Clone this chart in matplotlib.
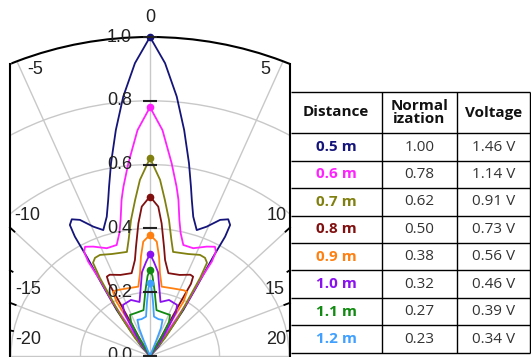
import numpy as np
import matplotlib.pyplot as plt
from matplotlib.lines import Line2D
from matplotlib.patches import Rectangle
from matplotlib.transforms import offset_copy

# table data
distances = ['0.5 m', '0.6 m', '0.7 m', '0.8 m', '0.9 m', '1.0 m', '1.1 m', '1.2 m']
norm_values = [1.00, 0.78, 0.62, 0.50, 0.38, 0.32, 0.27, 0.23]
voltages = [1.46, 1.14, 0.91, 0.73, 0.56, 0.46, 0.39, 0.34]
colors = ['#14147a', '#ff22ff', '#808010', '#801010', '#ff8010', '#8a10f0', '#108a10', '#40a0ff']

# beam patterns, right half (angle in deg, normalized r); mirrored for the left half
theta_05 = [0, 2.7, 5.4, 7.9, 10.5, 12.5, 13.8, 15.9, 18.8, 21.9, 25.3, 27.7, 29.3, 30.0, 30.3, 31.7, 33.6, 35.2, 39.3, 40]
r_05 = [1.00, .919, .817, .715, .615, .544, .504, .454, .417, .437, .472, .484, .471, .432, .361, .255, .173, .100, .038, 0]
theta_06 = [0, 2.9, 5.9, 8.2, 9.5, 11.2, 12.9, 15.4, 20.2, 25.5, 28.6, 30.1, 31.0, 31.1, 32.6, 33.2, 33.8, 35]
r_06 = [.78, .709, .607, .536, .496, .435, .395, .361, .360, .380, .390, .378, .345, .278, .196, .123, .060, 0]
theta_07 = [0, 3.0, 5.0, 7.3, 9.6, 11.5, 18.9, 24.4, 27.2, 29.3, 30.5, 31.7, 34.1, 37.4, 38]
r_07 = [.62, .553, .491, .430, .369, .333, .338, .348, .346, .335, .284, .214, .144, .071, 0]
theta_08 = [0, 2.9, 4.6, 6.7, 8.2, 11.5, 18.5, 24.5, 26.5, 27.5, 27.5, 28.0, 29.0, 30.0]
r_08 = [.50, .469, .417, .345, .304, .265, .268, .280, .278, .255, .173, .104, .058, 0]
theta_09 = [0, 3.1, 4.8, 6.3, 8.8, 17.5, 25.5, 27.9, 29.5, 29.5, 29.5, 30]
r_09 = [.38, .359, .312, .261, .220, .222, .228, .227, .196, .129, .069, 0]
theta_10 = [0, 2.2, 5.0, 7.5, 10.1, 17.3, 25.9, 28.5, 30.0, 33.3, 34]
r_10 = [.32, .295, .264, .209, .172, .184, .178, .157, .112, .053, 0]
theta_11 = [0, 1.6, 3.6, 7.4, 16.6, 24.1, 27.1, 28.8, 29.0, 30]
r_11 = [.27, .251, .207, .145, .141, .141, .120, .072, .032, 0]
theta_12 = [0, 1.2, 2.9, 5.3, 12, 17.7, 19.8, 20.5, 21]
r_12 = [.23, .213, .170, .124, .118, .119, .093, .053, 0]

thetas = [theta_05, theta_06, theta_07, theta_08, theta_09, theta_10, theta_11, theta_12]
radii = [r_05, r_06, r_07, r_08, r_09, r_10, r_11, r_12]

angle_labels = ['-20', '-15', '-10', '-5', '0', '5', '10', '15', '20']
r_ticks = [0.0, 0.2, 0.4, 0.6, 0.8, 1.0]

W, H = 531, 357
OX, OY = 150, 356          # polar origin in px
RX, RY = 347.7, 319        # the picture is a bit stretched sideways


def fx(x):
    return x / W


def fy(y):
    return 1 - y / H


fig = plt.figure(figsize=(W / 100, H / 100), dpi=100)
ax = fig.add_axes([fx(OX - RX), fy(OY + RY), 2 * RX / W, 2 * RY / H], projection='polar')
ax.set_aspect('auto')
ax.set_theta_zero_location('N')
ax.set_theta_direction(-1)

for th, rr, c in zip(thetas, radii, colors):
    th = np.array(th)
    rr = np.array(rr)
    full_th = np.concatenate([-th[::-1], th[1:]])
    full_r = np.concatenate([rr[::-1], rr[1:]])
    ax.plot(np.radians(full_th), full_r, color=c, lw=1.3)
    ax.plot(0, rr[0], 'o', color=c, ms=4.5, clip_on=False, zorder=4)

# radial labels along the centre line
tr = offset_copy(ax.transData, fig=fig, x=-18, y=0, units='dots')
for v in r_ticks:
    ax.text(0, v, f'{v:.1f}', transform=tr, ha='right', va='center',
            fontsize=13, color='#222222', family='Liberation Sans')
ax.plot(np.zeros(len(r_ticks)), r_ticks, ls='none', marker='_', ms=10, mew=1.5,
        color='#222222', clip_on=False, zorder=4)

# keep the full circle (plotting would otherwise shrink it to a wedge)
ax.set_xlim(-np.pi, np.pi)
ax.set_ylim(0, 1)
ax.set_thetagrids(np.arange(-90, 91, 22.5), labels=[''] * 9)
ax.set_rgrids([0.2, 0.4, 0.6, 0.8], labels=[''] * 4)
ax.grid(color='#c8c8c8', lw=1)
ax.tick_params(axis='x', length=0)
ax.spines['polar'].set_linewidth(1.5)

# clip the plot to a box: white cover on the left, table on the right
fig.add_artist(Rectangle((0, 0), fx(9.5), 1, transform=fig.transFigure,
                         color='white', zorder=1))
edge = 140
u = edge / RX
y_corner = OY - RY * np.sqrt(1 - u ** 2)
for xb in (OX - edge, OX + edge):
    fig.add_artist(Line2D([fx(xb), fx(xb)], [fy(y_corner), 0], color='k', lw=1.5,
                          transform=fig.transFigure, zorder=5))
    # ticks on the box edge
    for ang, ln in [(45, 6), (56.25, 3), (67.5, 6), (78.75, 3)]:
        dy = RY * u / np.tan(np.radians(ang))
        yb = OY - dy
        d = np.array([OX - xb, OY - yb])
        d = d / np.hypot(*d) * ln
        fig.add_artist(Line2D([fx(xb), fx(xb + d[0])], [fy(yb), fy(yb + d[1])],
                              color='k', lw=1.3, transform=fig.transFigure, zorder=5))

# angle labels
label_pos = [(28, 340), (28, 290), (27, 216), (35, 70), (150, 17),
             (265, 70), (277, 216), (275, 290), (276, 340)]
for s, (x, y) in zip(angle_labels, label_pos):
    fig.text(fx(x), fy(y), s, ha='center', va='center', fontsize=13,
             color='#222222', family='Liberation Sans', zorder=6)

# table
tax = fig.add_axes([fx(290), 0, 1 - fx(290), 1], zorder=2)
tax.set_xlim(290, W)
tax.set_ylim(H, 0)
tax.set_xticks([])
tax.set_yticks([])
for s in tax.spines.values():
    s.set_visible(False)

row_edges = [91.7] + list(np.linspace(133.3, 352.8, 9))
col_edges = [290.5, 382, 457, 530]
tax.hlines(row_edges, 290.5, 530, color='k', lw=1)
tax.vlines(col_edges[1:], row_edges[0], row_edges[-1], color='k', lw=1)

col_mid = [(col_edges[i] + col_edges[i + 1]) / 2 for i in range(3)]
head_y = (row_edges[0] + row_edges[1]) / 2
fp = dict(family='Open Sans', fontsize=11, ha='center', va='center')
tax.text(col_mid[0], head_y, 'Distance', fontweight='bold', color='#111111', **fp)
tax.text(col_mid[1], head_y, 'Normal\nization', fontweight='bold', color='#111111',
         linespacing=0.95, **fp)
tax.text(col_mid[2], head_y, 'Voltage', fontweight='bold', color='#111111', **fp)
for i in range(len(distances)):
    yc = (row_edges[i + 1] + row_edges[i + 2]) / 2
    tax.text(col_mid[0], yc, distances[i], fontweight='bold', color=colors[i], **fp)
    tax.text(col_mid[1], yc, f'{norm_values[i]:.2f}', color='#333333', **fp)
    tax.text(col_mid[2], yc, f'{voltages[i]:.2f} V', color='#333333', **fp)

fig.savefig('out.png', dpi=100)
